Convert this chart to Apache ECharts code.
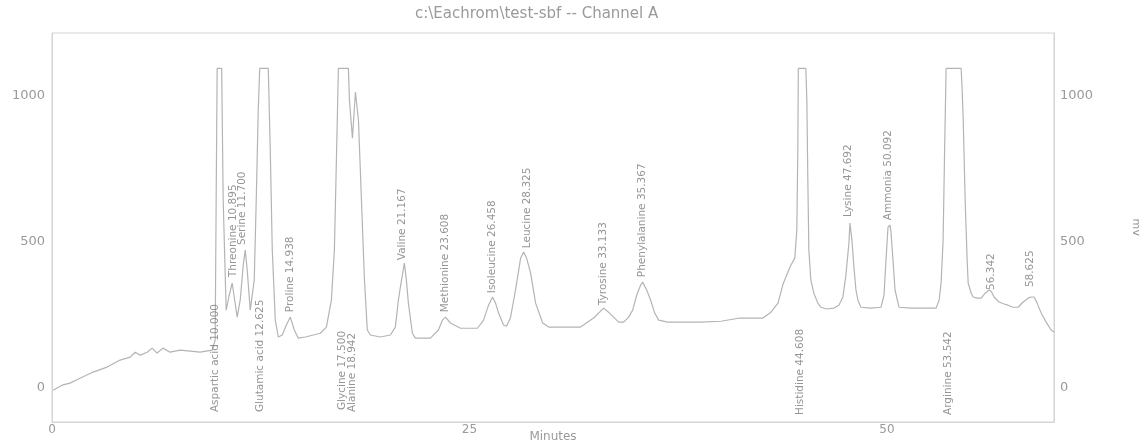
<!DOCTYPE html>
<html>
<head>
<meta charset="utf-8">
<script src="https://cdn.jsdelivr.net/npm/echarts@6/dist/echarts.min.js"></script>
<style>
html,body{margin:0;padding:0;background:#fff;}
#chart{width:1139px;height:443px;}
</style>
</head>
<body>
<div id="chart"></div>
<script>
// Chromatogram trace: retention time (minutes) and detector signal (mV)
const traceMinutes = [0.06,0.60,1.08,1.68,2.46,3.30,4.08,4.68,4.98,5.28,5.70,6.00,6.29,6.65,7.07,7.67,8.87,9.59,9.77,9.83,9.89,10.16,10.25,10.43,10.61,10.79,10.94,11.09,11.27,11.45,11.57,11.69,11.87,12.11,12.23,12.35,12.44,12.95,13.07,13.19,13.37,13.55,13.79,14.03,14.27,14.51,14.75,15.17,15.65,16.07,16.43,16.73,16.91,17.03,17.15,17.75,17.81,17.99,18.17,18.35,18.53,18.71,18.88,19.06,19.66,20.26,20.56,20.74,20.86,21.10,21.22,21.34,21.58,21.76,22.66,23.14,23.38,23.56,23.86,24.46,25.48,25.84,26.14,26.38,26.56,26.74,27.04,27.22,27.46,27.70,27.88,28.06,28.24,28.42,28.66,28.96,29.38,29.74,30.76,31.65,32.43,33.03,33.33,33.63,33.93,34.23,34.53,34.77,35.01,35.25,35.37,35.61,35.85,36.09,36.33,36.87,38.85,40.05,41.19,42.57,43.05,43.47,43.76,43.94,44.24,44.48,44.60,44.66,44.69,45.14,45.20,45.26,45.32,45.44,45.62,45.86,46.04,46.40,46.82,47.12,47.36,47.54,47.72,47.78,47.90,48.02,48.14,48.26,48.44,49.04,49.64,49.82,49.94,50.06,50.18,50.24,50.36,50.48,50.72,51.44,52.34,52.94,53.12,53.24,53.36,53.45,53.54,54.44,54.50,54.56,54.68,54.80,54.86,55.04,55.16,55.40,55.64,55.88,56.12,56.24,56.41,56.71,57.01,57.25,57.55,57.85,58.15,58.45,58.63,58.81,58.99,59.23,59.53,59.83,60.00];
const traceMV = [-7,10,17,34,55,72,96,106,123,113,123,137,120,137,123,130,123,130,164,644,1095,1095,644,267,318,360,301,243,301,421,473,404,267,370,644,952,1095,1095,815,473,233,175,182,216,243,199,171,175,182,188,209,301,473,781,1095,1095,986,856,1014,918,644,370,199,182,175,182,209,301,346,428,370,291,188,171,171,199,233,243,223,205,205,233,284,312,291,257,216,212,243,318,380,445,466,445,394,291,223,209,209,209,240,274,260,243,226,226,243,267,318,353,363,336,301,257,233,226,226,229,240,240,260,291,353,380,421,445,541,815,1095,1095,986,712,473,370,325,291,277,271,274,284,312,387,497,565,507,414,336,301,277,274,277,318,438,551,558,534,438,336,277,274,274,274,301,360,507,815,1095,1095,1021,928,644,438,360,325,312,308,308,325,336,332,312,295,288,284,277,277,295,308,312,312,291,257,226,199,192];

// Peak annotations
const peakNames = ["Aspartic acid 10.000","Threonine 10.895","Serine 11.700","Glutamic acid 12.625","Proline 14.938","Glycine 17.500","Alanine 18.942","Valine 21.167","Methionine 23.608","Isoleucine 26.458","Leucine 28.325","Tyrosine 33.133","Phenylalanine 35.367","Histidine 44.608","Lysine 47.692","Ammonia 50.092","Arginine 53.542","56.342","58.625"];
const peakLabelMinutes = [9.77,10.85,11.39,12.47,14.27,17.39,17.99,20.98,23.56,26.38,28.48,33.03,35.37,44.78,47.66,50.06,53.66,56.24,58.57];
const peakLabelMV = [-82,380,490,-82,260,-75,-82,438,260,325,479,284,380,-92,586,575,-92,336,346];

// Axis ticks
const xTicks = [0,25,50];
const yTicks = [0,500,1000];

const FONT = "DejaVu Sans";
const chart = echarts.init(document.getElementById('chart'), null, {renderer:'canvas'});

const labelData = peakNames.map((n,i)=>[peakLabelMinutes[i], peakLabelMV[i], n]);
const traceData = traceMinutes.map((t,i)=>[t, traceMV[i]]);

const yAxisCommon = {
  type:'value', min:-116, max:1216,
  axisLine:{show:true, lineStyle:{color:'#d4d4d4', width:1}},
  axisTick:{show:false, customValues:yTicks},
  splitLine:{show:false},
  axisLabel:{customValues:yTicks, formatter:v=>String(v), color:'#9a9a9a', fontFamily:FONT, fontSize:13, margin:7}
};

chart.setOption({
  animation:false,
  backgroundColor:'#ffffff',
  grid:{left:52, right:85, top:33, bottom:21, show:true, borderColor:'#d4d4d4', borderWidth:1, containLabel:false, outerBoundsMode:'none'},
  graphic:[{
    type:'text', left:415, top:7,
    style:{text:'c:\\Eachrom\\test-sbf -- Channel A', fill:'#9a9a9a', font:'15px "DejaVu Sans"'}
  }],
  xAxis:{
    type:'value', min:0, max:60,
    name:'Minutes', nameLocation:'middle', nameGap:9, nameMoveOverlap:false,
    nameTextStyle:{color:'#9a9a9a', fontFamily:FONT, fontSize:12, verticalAlign:'top'},
    axisLine:{show:true, onZero:false, lineStyle:{color:'#d4d4d4'}},
    axisTick:{show:false, customValues:xTicks},
    splitLine:{show:false},
    axisLabel:{customValues:xTicks, color:'#9a9a9a', fontFamily:FONT, fontSize:12, margin:2}
  },
  yAxis:[
    Object.assign({}, yAxisCommon, {position:'left'}),
    Object.assign({}, yAxisCommon, {position:'right', name:'mV', nameLocation:'middle', nameGap:76, nameRotate:-90, nameMoveOverlap:false,
      nameTextStyle:{color:'#9a9a9a', fontFamily:FONT, fontSize:11},
      axisLabel:Object.assign({}, yAxisCommon.axisLabel, {margin:6})})
  ],
  series:[
    {
      type:'line', data:traceData, showSymbol:false, symbol:'none',
      lineStyle:{color:'#b4b4b4', width:1.2}, z:2, silent:true
    },
    {
      type:'scatter', data:labelData, symbolSize:1, itemStyle:{color:'rgba(0,0,0,0)'},
      z:3, silent:true,
      label:{
        show:true, position:'inside', rotate:90, align:'left', verticalAlign:'middle',
        formatter:p=>p.value[2], color:'#7a7a7a', fontFamily:FONT, fontSize:10.5
      }
    }
  ]
});
</script>
</body>
</html>
